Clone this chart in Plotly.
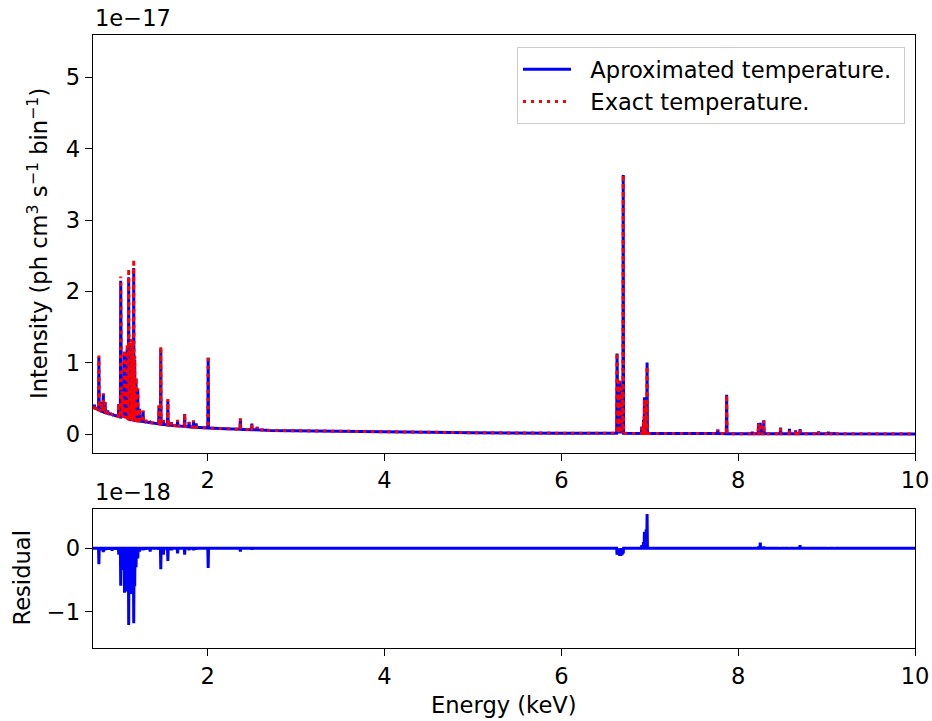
import numpy as np
import plotly.graph_objects as go

# ---------------- data (intensity in units of 1e-17, residual in 1e-18) -------------
cont_energy = [0.70, 0.75, 0.80, 0.90, 1.00, 1.10, 1.20, 1.30, 1.40, 1.50, 1.60, 1.80,
               2.00, 2.20, 2.40, 2.60, 2.70, 3.00, 3.50, 4.00, 5.00, 6.00, 7.00, 8.00,
               9.00, 10.00]
cont_flux = [0.38, 0.35, 0.32, 0.28, 0.245, 0.215, 0.19, 0.17, 0.15, 0.135, 0.12, 0.10,
             0.085, 0.075, 0.065, 0.058, 0.05, 0.045, 0.035, 0.028, 0.018, 0.012, 0.008,
             0.005, 0.003, 0.002]

line_energy = [0.72, 0.77, 0.80, 0.82, 0.84, 0.87, 0.90, 0.92, 0.96, 0.995,
               1.017, 1.03, 1.045, 1.06, 1.075, 1.09, 1.107, 1.12, 1.135, 1.15,
               1.164, 1.175, 1.19, 1.21, 1.23, 1.27, 1.30, 1.35, 1.45, 1.47,
               1.50, 1.55, 1.59, 1.66, 1.74, 1.79, 1.84, 1.87, 2.006, 2.37,
               2.50, 2.56, 2.62, 6.63, 6.645, 6.66, 6.675, 6.69, 6.70, 6.91,
               6.93, 6.94, 6.96, 6.97, 7.77, 7.87, 8.16, 8.23, 8.25, 8.29,
               8.48, 8.58, 8.65, 8.70, 8.91, 9.02, 9.09]
line_exact = [0.41, 1.10, 0.45, 0.57, 0.45, 0.33, 0.30, 0.29, 0.27, 0.43,
              2.21, 0.60, 0.55, 1.18, 0.90, 1.27, 2.32, 1.00, 1.34, 1.30,
              2.45, 1.10, 0.80, 0.64, 0.36, 0.33, 0.20, 0.17, 0.40, 1.23,
              0.20, 0.49, 0.17, 0.20, 0.29, 0.17, 0.19, 0.15, 1.10, 0.22,
              0.15, 0.10, 0.07, 1.14, 0.72, 0.75, 0.68, 0.60, 3.64, 0.10,
              0.19, 0.49, 0.47, 0.95, 0.06, 0.55, 0.03, 0.15, 0.15, 0.19,
              0.09, 0.07, 0.05, 0.065, 0.035, 0.03, 0.02]
line_approx = [0.41, 1.075, 0.45, 0.564, 0.45, 0.33, 0.30, 0.286, 0.27, 0.42,
               2.15, 0.57, 0.516, 1.11, 0.84, 1.20, 2.20, 0.94, 1.27, 1.234,
               2.33, 1.04, 0.77, 0.624, 0.355, 0.327, 0.198, 0.165, 0.398, 1.197,
               0.19, 0.47, 0.167, 0.192, 0.28, 0.167, 0.187, 0.148, 1.069, 0.215,
               0.148, 0.099, 0.07, 1.13, 0.71, 0.738, 0.668, 0.59, 3.632, 0.105,
               0.20, 0.516, 0.50, 1.004, 0.062, 0.552, 0.031, 0.153, 0.159, 0.193,
               0.091, 0.071, 0.051, 0.07, 0.037, 0.031, 0.021]
line_resid = [0.0, -0.25, -0.03, -0.06, -0.03, -0.02, -0.02, -0.04, -0.02, -0.10,
              -0.59, -0.30, -0.34, -0.70, -0.60, -0.68, -1.21, -0.62, -0.72, -0.66,
              -1.18, -0.60, -0.30, -0.16, -0.05, -0.03, -0.02, -0.05, -0.02, -0.33,
              -0.10, -0.20, -0.03, -0.08, -0.10, -0.03, -0.03, -0.02, -0.31, -0.05,
              -0.02, -0.01, 0.0, -0.10, -0.10, -0.12, -0.12, -0.10, -0.08, 0.05,
              0.10, 0.26, 0.30, 0.54, 0.02, 0.02, 0.01, 0.03, 0.09, 0.03,
              0.01, 0.01, 0.01, 0.05, 0.02, 0.01, 0.01]

x_ticks = [2, 4, 6, 8, 10]
y_ticks_top = [0, 1, 2, 3, 4, 5]
y_ticks_res = [-1, 0]

# ---------------- build spike spectra -------------
HALF = 0.004


def spectrum(peaks):
    pts = list(zip(cont_energy, cont_flux))
    for e, p in zip(line_energy, peaks):
        base = float(np.interp(e, cont_energy, cont_flux))
        pts += [(e - HALF, base), (e, p), (e + HALF, base)]
    pts.sort(key=lambda t: t[0])
    return [a for a, _ in pts], [b for _, b in pts]


def residual_curve():
    pts = [(cont_energy[0], 0.0), (cont_energy[-1], 0.0)]
    for e, r in zip(line_energy, line_resid):
        pts += [(e - HALF, 0.0), (e, r), (e + HALF, 0.0)]
    pts.sort(key=lambda t: t[0])
    return [a for a, _ in pts], [b for _, b in pts]


ax_x, ax_y = spectrum(line_approx)
ex_x, ex_y = spectrum(line_exact)
rs_x, rs_y = residual_curve()

FONT = "DejaVu Sans"
FS = 22.6
W, H = 932, 721
PRE = "\u00a0\u00a0"
PAD = "\u00a0"

fig = go.Figure()
fig.add_trace(go.Scatter(x=ax_x, y=ax_y, mode="lines",
                         name=PRE + "Aproximated temperature." + PAD,
                         line=dict(color="#0000ff", width=3), xaxis="x", yaxis="y"))
fig.add_trace(go.Scatter(x=ex_x, y=ex_y, mode="lines", name=PRE + "Exact temperature.",
                         line=dict(color="#ff0000", width=3, dash="3px,5px"),
                         xaxis="x", yaxis="y"))
fig.add_trace(go.Scatter(x=rs_x, y=rs_y, mode="lines", showlegend=False,
                         line=dict(color="#0000ff", width=3), xaxis="x2", yaxis="y2"))

left, right = 92.7 / W, 915 / W
top_dom = [1 - 452.7 / H, 1 - 35 / H]
bot_dom = [1 - 648.3 / H, 1 - 509 / H]

common = dict(showgrid=False, zeroline=False, showline=True, mirror=True,
              linecolor="black", linewidth=1.3, ticks="outside", ticklen=7,
              tickwidth=1.3, tickcolor="black", automargin=False,
              tickfont=dict(family=FONT, size=FS, color="black"))

fig.update_layout(
    template="none",
    width=W, height=H, autosize=False,
    margin=dict(l=0, r=0, t=0, b=0, pad=0),
    paper_bgcolor="white", plot_bgcolor="white",
    font=dict(family=FONT, size=FS, color="black"),
    xaxis=dict(domain=[left, right], range=[0.7, 10], anchor="y",
               tickvals=x_ticks, ticktext=[str(v) for v in x_ticks], **common),
    yaxis=dict(domain=top_dom, range=[-0.262, 5.596], anchor="x",
               tickvals=y_ticks_top, ticktext=[str(v) for v in y_ticks_top], **common),
    xaxis2=dict(domain=[left, right], range=[0.7, 10], anchor="y2",
                tickvals=x_ticks, ticktext=[str(v) for v in x_ticks], **common),
    yaxis2=dict(domain=bot_dom, range=[-1.577, 0.62], anchor="x2",
                tickvals=y_ticks_res, ticktext=["\u22121", "0"], **common),
    legend=dict(x=905 / W, xanchor="right", y=1 - 47 / H, yanchor="top",
                bgcolor="rgba(255,255,255,0.8)", bordercolor="#cccccc", borderwidth=1,
                font=dict(family=FONT, size=FS, color="black"), itemwidth=48),
    showlegend=True,
)

annots = [
    dict(text="1e\u221217", x=93 / W, y=1 - 33 / H, xanchor="left", yanchor="bottom"),
    dict(text="1e\u221218", x=93 / W, y=1 - 507 / H, xanchor="left", yanchor="bottom"),
    dict(text="Energy (keV)", x=504 / W, y=1 - 705 / H, xanchor="center", yanchor="middle"),
    dict(text="Residual", x=21 / W, y=1 - 578.5 / H, xanchor="center", yanchor="middle",
         textangle=-90),
    dict(text="Intensity (ph cm<sup>3</sup> s<sup>\u22121</sup> bin<sup>\u22121</sup>)",
         x=37 / W, y=1 - 244 / H, xanchor="center", yanchor="middle", textangle=-90),
]
for a in annots:
    fig.add_annotation(xref="paper", yref="paper", showarrow=False,
                       font=dict(family=FONT, size=FS, color="black"), **a)

fig.write_html("out.html")
